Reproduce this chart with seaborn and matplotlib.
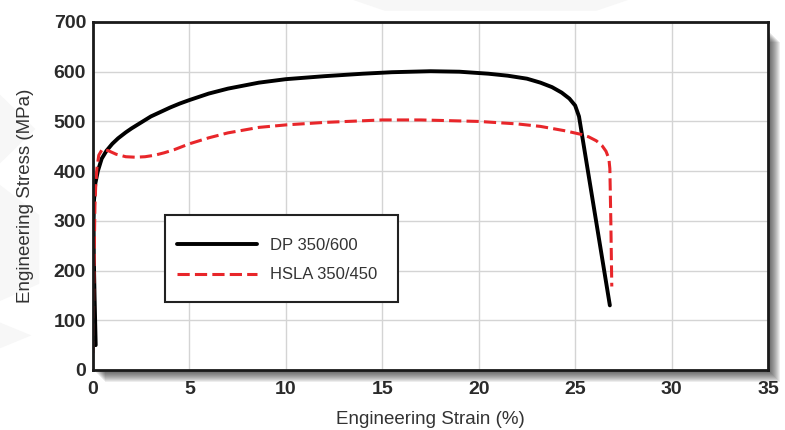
import matplotlib
matplotlib.use("Agg")
import matplotlib.pyplot as plt
import matplotlib.patches as mpatches
import numpy as np
import pandas as pd
import seaborn as sns

# Engineering stress-strain curves (strain in %, stress in MPa)
dp_strain = [0.14, 0.08, 0.04, 0.03, 0.05, 0.12, 0.25, 0.45, 0.7, 1.0, 1.3, 1.7, 2.0, 2.5,
             3.0, 3.5, 4.0, 4.5, 5.0, 6.0, 7.0, 8.6, 10.0, 12.0, 14.0, 15.5, 17.5, 19.0,
             20.5, 21.5, 22.5, 23.2, 23.8, 24.3, 24.7, 25.0, 25.2, 26.8]
dp_stress = [50, 150, 230, 300, 340, 375, 400, 425, 441, 455, 466, 478, 486, 498,
             510, 519, 528, 536, 543, 556, 566, 578, 585, 591, 596, 599, 601, 600,
             596, 592, 586, 578, 569, 558, 546, 532, 510, 130]

hsla_strain = [0.0, 0.05, 0.1, 0.14, 0.2, 0.3, 0.48, 0.8, 1.2, 1.7, 2.2, 2.7, 3.2, 3.7,
               4.2, 5.0, 6.0, 7.0, 8.6, 10.0, 12.0, 15.0, 17.0, 20.0, 22.0, 23.2, 24.5,
               25.3, 25.7, 26.1, 26.4, 26.6, 26.75, 26.8, 26.85, 26.9]
hsla_stress = [34, 200, 330, 370, 405, 432, 444, 441, 434, 429, 428, 429, 432, 437,
               443, 455, 467, 477, 488, 493, 498, 503, 503, 500, 495, 490, 481,
               474, 469, 461, 451, 440, 425, 405, 300, 168]

series_labels = ["DP 350/600", "HSLA 350/450"]
x_ticks = [0, 5, 10, 15, 20, 25, 30, 35]
y_ticks = [0, 100, 200, 300, 400, 500, 600, 700]

df = pd.concat([
    pd.DataFrame({"strain": dp_strain, "stress": dp_stress, "steel": series_labels[0]}),
    pd.DataFrame({"strain": hsla_strain, "stress": hsla_stress, "steel": series_labels[1]}),
], ignore_index=True)

sns.set_theme(style="white")
plt.rcParams["font.family"] = ["Liberation Sans", "DejaVu Sans"]

W, H = 785, 430
fig = plt.figure(figsize=(W / 100, H / 100), dpi=100)
fig.patch.set_facecolor("white")

# faint background shapes
for poly in ([(0.45, 1.0), (0.80, 1.0), (0.76, 0.975), (0.49, 0.975)],
             [(0.0, 0.78), (0.045, 0.70), (0.0, 0.62)],
             [(0.0, 0.57), (0.05, 0.50), (0.05, 0.34), (0.0, 0.30)],
             [(0.0, 0.25), (0.04, 0.22), (0.0, 0.19)]):
    fig.patches.append(mpatches.Polygon(poly, closed=True, transform=fig.transFigure,
                                        facecolor="#f7f7f7", edgecolor="none", zorder=0))

ax_rect = [93 / W, (H - 370) / H, (768 - 93) / W, (370 - 22) / H]

# soft drop shadow behind the plot frame
for i in range(1, 13):
    dx = i / W
    dy = i / H
    fig.patches.append(mpatches.Rectangle((ax_rect[0] + dx, ax_rect[1] - dy),
                                          ax_rect[2], ax_rect[3] - 8 / H,
                                          transform=fig.transFigure, facecolor="black",
                                          alpha=0.07, edgecolor="none", zorder=0.5))

ax = fig.add_axes(ax_rect)
ax.set_facecolor("white")
ax.set_zorder(2)

sns.lineplot(data=df, x="strain", y="stress", hue="steel", style="steel",
             palette={series_labels[0]: "black", series_labels[1]: "#e8262a"},
             dashes={series_labels[0]: "", series_labels[1]: (4.0, 1.7)},
             sort=False, estimator=None, linewidth=2.8, ax=ax)
for line in ax.get_lines():
    if line.get_color() == "#e8262a":
        line.set_linewidth(2.2)
    line.set_solid_joinstyle("round")
    line.set_dash_joinstyle("round")

ax.set_xlim(0, 35)
ax.set_ylim(0, 700)
ax.set_xticks(x_ticks)
ax.set_yticks(y_ticks)
ax.set_xticklabels([str(v) for v in x_ticks], fontweight="bold", fontsize=14, color="#2a2a2a")
ax.set_yticklabels([str(v) for v in y_ticks], fontweight="bold", fontsize=14, color="#2a2a2a")
ax.tick_params(axis="x", length=0, pad=8)
ax.tick_params(axis="y", length=0, pad=5)
ax.grid(True, color="#d4d4d4", linewidth=1.0)
ax.set_axisbelow(True)
for s in ax.spines.values():
    s.set_visible(True)
    s.set_color("#1a1a1a")
    s.set_linewidth(2.0)

ax.set_xlabel("Engineering Strain (%)", fontsize=13.5, color="#333333", labelpad=9)
ax.set_ylabel("Engineering Stress (MPa)", fontsize=13.5, color="#333333", labelpad=14)

# legend box drawn as its own frame, entries placed inside it
box_x0, box_x1 = (165 - 93) / 675, (398 - 93) / 675
box_y0, box_y1 = (370 - 302) / 348, (370 - 215) / 348
ax.add_patch(mpatches.Rectangle((box_x0, box_y0), box_x1 - box_x0, box_y1 - box_y0,
                                transform=ax.transAxes, facecolor="white",
                                edgecolor="#222222", linewidth=1.5, zorder=5))

handles, labels = ax.get_legend_handles_labels()
leg = ax.legend(handles, labels, loc="center left",
                bbox_to_anchor=((177 - 93) / 675, (box_y0 + box_y1) / 2 - 1.5 / 348),
                fontsize=12, handlelength=4.8, handletextpad=0.75,
                labelspacing=0.88, borderpad=0, frameon=False, borderaxespad=0)
leg.set_zorder(6)
for t in leg.get_texts():
    t.set_color("#333333")

fig.savefig("out.png", dpi=100, facecolor="white")
